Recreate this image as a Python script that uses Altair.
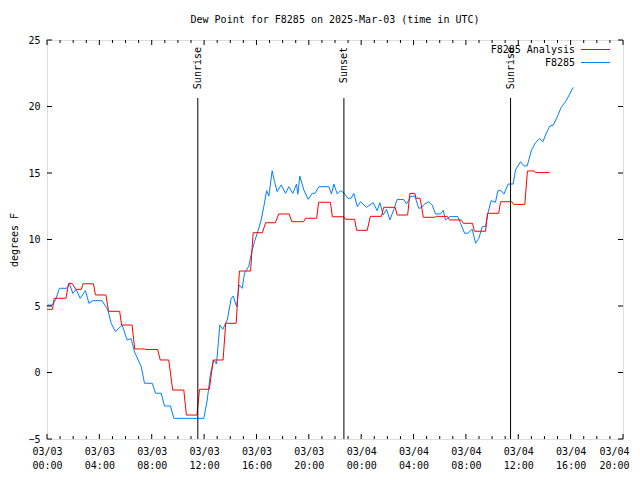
import altair as alt
import pandas as pd

# ---- data (hours since 03/03 00:00 UTC) ----
obs_hours = [0.0, 0.1, 0.4, 0.65, 0.95, 1.5, 1.72, 1.97, 2.23, 2.53, 2.94, 3.2, 3.5, 4.2, 4.65, 4.9,
             5.23, 5.74, 6.12, 6.43, 6.68, 7.2, 7.45, 8.04, 8.29, 8.72, 8.98, 9.43, 9.69, 11.98,
             12.24, 12.49, 12.74, 12.95, 13.2, 13.43, 13.77, 14.07, 14.22, 14.48, 14.68, 14.91,
             15.09, 15.42, 15.62, 15.85, 16.1, 16.36, 16.56, 16.78, 16.95, 17.2, 17.38, 17.58,
             17.89, 18.22, 18.47, 18.78, 19.06, 19.16, 19.31, 19.62, 19.95, 20.26, 20.46, 20.77,
             21.53, 21.73, 21.91, 22.17, 22.42, 22.68, 22.98, 23.24, 23.44, 23.7, 23.95, 24.4,
             24.92, 25.22, 25.43, 25.68, 25.94, 26.19, 26.5, 26.75, 27.26, 27.46, 27.77, 28.1,
             28.4, 28.6, 28.84, 29.17, 29.43, 29.68, 30.06, 30.27, 30.44, 30.77, 31.38, 31.59,
             31.9, 32.15, 32.48, 32.74, 32.99, 33.25, 33.5, 33.68, 33.93, 34.26, 34.44, 34.7,
             34.9, 35.23, 35.61, 35.79, 36.17, 36.43, 36.68, 37.01, 37.32, 37.62, 37.88, 38.14,
             38.41, 38.67, 38.98, 39.28, 39.61, 40.2]
obs_values = [5.0, 5.07, 5.07, 5.45, 6.33, 6.33, 6.65, 5.95, 6.25, 5.58, 6.15, 5.2, 5.4, 5.4, 4.7, 3.7,
              3.07, 3.57, 2.44, 2.55, 1.56, 0.43, -0.81, -0.81, -1.56, -1.56, -2.52, -2.52, -3.45, -3.45,
              -2.07, -0.06, 0.94, 0.64, 3.57, 3.25, 3.95, 5.58, 5.75, 4.95, 6.58, 6.33,
              7.46, 8.0, 8.96, 9.84, 10.59, 11.47, 12.47, 13.67, 13.27, 15.17, 14.35, 13.6,
              14.1, 13.47, 13.97, 13.47, 14.17, 13.4, 14.77, 13.72, 13.02, 13.47, 13.47, 13.97,
              13.97, 13.42, 14.17, 13.42, 13.67, 13.5, 13.1, 13.1, 13.47, 12.47, 12.84, 12.42,
              12.77, 12.17, 12.77, 11.84, 12.27, 11.47, 12.27, 13.02, 13.0, 12.67, 13.22, 13.27,
              12.34, 12.4, 12.67, 12.84, 12.59, 11.92, 11.92, 12.2, 11.47, 11.72, 11.72, 11.22,
              10.47, 10.47, 10.77, 9.72, 10.09, 10.97, 10.97, 11.97, 12.92, 12.8, 13.67, 13.67,
              13.42, 14.17, 14.17, 15.23, 15.85, 15.53, 15.53, 16.73, 17.28, 17.6, 17.35, 18.0,
              18.53, 18.6, 19.23, 19.94, 20.36, 21.44]

ana_start = [0.0, 0.55, 1.65, 2.2, 2.75, 3.7, 4.7, 5.7, 6.7, 7.5, 8.65, 9.6, 10.65, 11.65, 12.7,
             13.65, 14.7, 15.75, 16.7, 17.7, 18.7, 19.75, 20.75, 21.8, 22.8, 23.65, 24.7, 25.72,
             26.75, 27.72, 28.2, 28.75, 29.75, 30.75, 31.8, 32.65, 33.65, 34.65, 35.65, 36.7, 37.35]
ana_end = [0.42, 1.45, 1.92, 2.62, 3.55, 4.5, 5.55, 6.5, 7.45, 8.45, 9.3, 10.45, 11.45, 12.4, 13.45,
           14.45, 15.55, 16.45, 17.45, 18.5, 19.6, 20.6, 21.65, 22.65, 23.5, 24.46, 25.55, 26.6,
           27.55, 28.1, 28.5, 29.6, 30.6, 31.65, 32.5, 33.5, 34.5, 35.5, 36.5, 37.2, 38.4]
ana_values = [4.75, 5.58, 6.7, 6.25, 6.67, 5.83, 4.6, 3.57, 1.77, 1.73, 0.94, -1.32, -3.2, -1.26, 0.94,
              3.7, 7.63, 10.51, 11.26, 11.92, 11.34, 11.6, 12.8, 11.71, 11.52, 10.69, 11.74, 12.42,
              11.84, 13.47, 13.1, 11.67, 11.74, 11.47, 11.22, 10.62, 11.97, 12.84, 12.64, 15.15, 15.03]

event_hours = [11.52, 22.68, 35.41]
event_names = ["Sunrise", "Sunset", "Sunrise"]

x_ticks = [0, 4, 8, 12, 16, 20, 24, 28, 32, 36, 40, 44]
x_tick_dates = ["03/03"] * 6 + ["03/04"] * 6
x_tick_times = ["00:00", "04:00", "08:00", "12:00", "16:00", "20:00"] * 2
y_ticks = [-5, 0, 5, 10, 15, 20, 25]

series_names = ["F8285 Analysis", "F8285"]
series_colors = ["#ff0000", "#0080ff"]

# ---- tables ----
W, H = 576, 399
FONT = "DejaVu Sans Mono"

obs_df = pd.DataFrame({"h": obs_hours, "v": obs_values})
ana_rows = []
for s, e, v in zip(ana_start, ana_end, ana_values):
    ana_rows.append({"h": s, "v": v})
    ana_rows.append({"h": e, "v": v})
ana_df = pd.DataFrame(ana_rows)
ev_df = pd.DataFrame({"h": event_hours, "name": event_names})
minor_df = pd.DataFrame({"h": [h for h in range(0, 45) if h % 4 != 0]})
major_df = pd.DataFrame({"h": x_ticks})
yt_df = pd.DataFrame({"v": y_ticks})
leg_df = pd.DataFrame({"name": series_names, "color": series_colors,
                       "ty": [9.5, 22.5]})

label_arr = "[" + ",".join(f"['{d}','{t}']" for d, t in zip(x_tick_dates, x_tick_times)) + "]"

x_enc = alt.X("h:Q", scale=alt.Scale(domain=[0, 44], nice=False, zero=False),
              axis=alt.Axis(values=x_ticks, labelExpr=f"{label_arr}[round(datum.value/4)]",
                            ticks=False, domain=False, grid=False, title=None,
                            labelFont=FONT, labelFontSize=10, labelColor="black",
                            labelFlush=False, labelOverlap=False, labelBound=False,
                            labelOffset={"condition": {"test": "datum.value == 44", "value": -9},
                                         "value": 0},
                            labelPadding=7, labelLineHeight=14, labelBaseline="top"))
y_enc = alt.Y("v:Q", scale=alt.Scale(domain=[-5, 25], nice=False, zero=False),
              axis=alt.Axis(values=y_ticks, ticks=False, domain=False, grid=False,
                            title="degrees F", titleFont=FONT, titleFontSize=10,
                            titleFontWeight="normal", titleColor="black", titlePadding=8,
                            labelFont=FONT, labelFontSize=10, labelColor="black",
                            labelFlush=False, labelOverlap=False, labelPadding=7))

obs_line = alt.Chart(obs_df).mark_line(color=series_colors[1], strokeWidth=1).encode(x=x_enc, y=y_enc)
ana_line = alt.Chart(ana_df).mark_line(color=series_colors[0], strokeWidth=1).encode(x=x_enc, y=y_enc)

ev_rule = alt.Chart(ev_df).mark_rule(color="black", strokeWidth=1).encode(
    x=x_enc, y=alt.value(58), y2=alt.value(H))
ev_text = alt.Chart(ev_df).mark_text(angle=270, align="right", baseline="middle",
                                     font=FONT, fontSize=10, color="black").encode(
    x=x_enc, y=alt.value(7), text="name:N")

tick_layers = []
for df, ln in ((minor_df, 3), (major_df, 5)):
    tick_layers.append(alt.Chart(df).mark_rule(color="black").encode(
        x=x_enc, y=alt.value(H), y2=alt.value(H - ln)))
    tick_layers.append(alt.Chart(df).mark_rule(color="black").encode(
        x=x_enc, y=alt.value(0), y2=alt.value(ln)))
tick_layers.append(alt.Chart(yt_df).mark_rule(color="black").encode(
    y=y_enc, x=alt.value(0), x2=alt.value(5)))
tick_layers.append(alt.Chart(yt_df).mark_rule(color="black").encode(
    y=y_enc, x=alt.value(W - 5), x2=alt.value(W)))

leg_text = alt.Chart(leg_df).mark_text(align="right", baseline="middle", font=FONT,
                                       fontSize=10, color="black").encode(
    x=alt.value(528), y=alt.Y("ty:Q", scale=None), text="name:N")
leg_line = alt.Chart(leg_df).mark_rule(strokeWidth=1).encode(
    x=alt.value(534), x2=alt.value(563), y=alt.Y("ty:Q", scale=None),
    color=alt.Color("color:N", scale=None))

chart = alt.layer(obs_line, ana_line, ev_rule, ev_text, *tick_layers, leg_text, leg_line).properties(
    width=W, height=H,
    title=alt.TitleParams("Dew Point for F8285 on 2025-Mar-03 (time in UTC)", font=FONT,
                          fontSize=10, fontWeight="normal", color="black", offset=10,
                          anchor="middle"),
    autosize=alt.AutoSizeParams(type="none"),
    padding={"left": 39, "top": 32, "right": 9, "bottom": 33},
).configure_view(stroke="black", strokeWidth=1).configure(background="white")

chart.save("out.html", embed_options={"renderer": "svg", "actions": False})
